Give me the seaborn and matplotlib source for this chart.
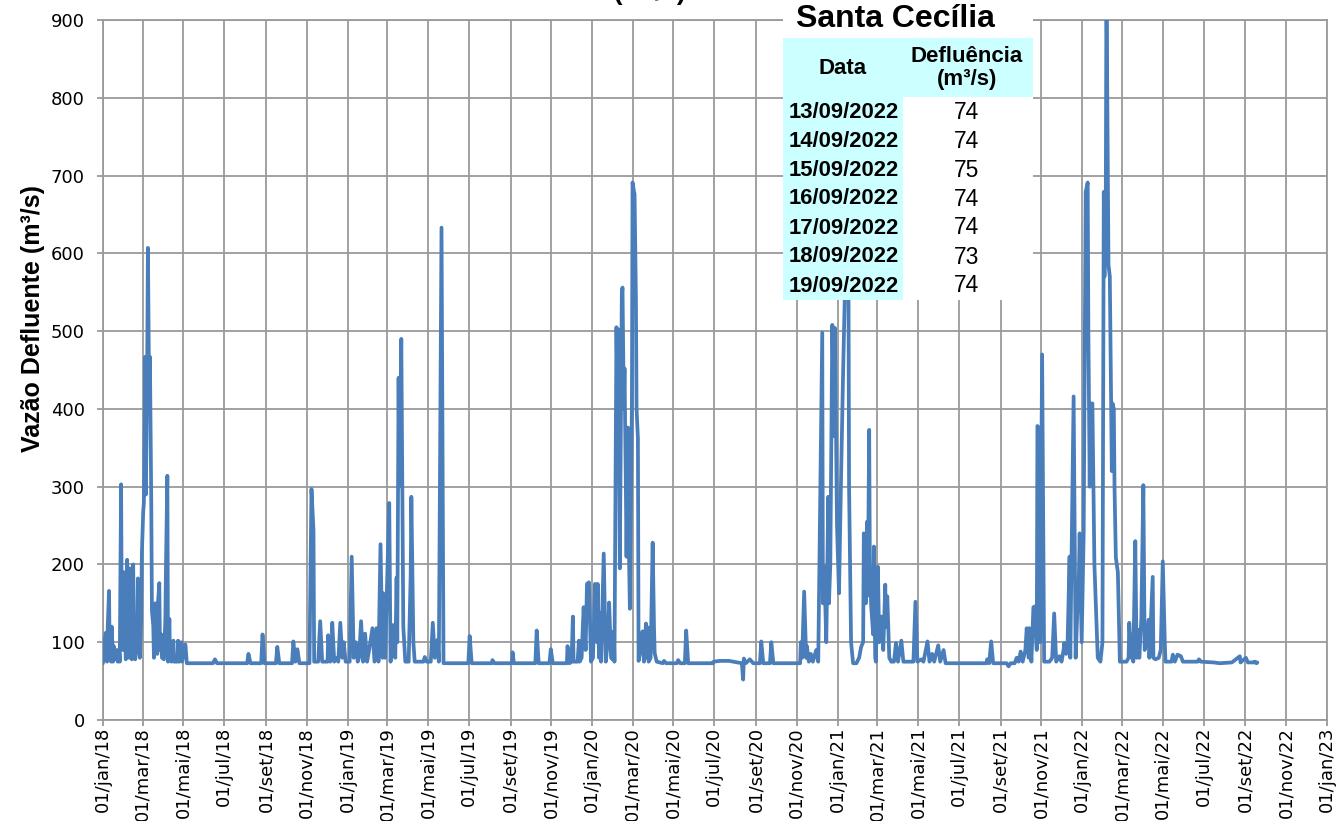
import pandas as pd
import matplotlib
matplotlib.use('Agg')
import matplotlib.pyplot as plt
from matplotlib.patches import Rectangle
import seaborn as sns

# dias contados a partir de 01/01/2018 e vazão defluente (m³/s)
dia = [0, 1, 3, 4, 6, 7, 9, 10, 12, 13, 15, 16, 18, 21, 22, 24, 25, 27, 28, 30,
       31, 33, 34, 36, 37, 39, 40, 42, 43, 45, 46, 48, 51, 52, 54, 55, 57, 58, 60, 61,
       63, 64, 66, 67, 69, 70, 72, 73, 75, 76, 78, 79, 81, 82, 84, 85, 87, 88, 91, 93,
       94, 96, 97, 99, 100, 102, 103, 105, 106, 111, 112, 114, 117, 118, 123, 125,
       164, 167, 170, 215, 217, 220, 236, 238, 241, 258, 260, 263, 282, 284, 287, 290, 293,
       308, 311, 314, 315, 321, 324, 327, 335, 336, 339, 341, 342, 345, 348, 351, 354, 357,
       359, 362, 368, 371, 374, 377, 380, 382, 385, 388, 391, 394, 397, 402, 405, 408, 411,
       414, 417, 418, 421, 423, 427, 429, 433, 436, 438, 439, 441, 442, 445, 448, 451, 456,
       459, 460, 463, 465, 478, 480, 483, 489, 492, 495, 499, 501, 505, 508,
       545, 547, 550, 580, 581, 584, 610, 611, 613, 645, 647, 650, 666, 668, 671,
       692, 693, 696, 699, 701, 702, 708, 710, 711, 714, 717, 720, 722, 725, 728, 731, 734,
       737, 738, 740, 741, 743, 747, 750, 753, 755, 758, 760, 762, 763, 766, 768, 769, 771,
       774, 775, 777, 778, 780, 781, 783, 784, 786, 789, 790, 792, 793, 795, 796, 798, 799,
       802, 805, 807, 810, 811, 813, 814, 817, 820, 822, 823, 826, 835, 837, 840, 856, 858,
       861, 868, 870, 873, 910, 911, 920, 934, 953, 955, 956, 959, 965, 970, 980, 982, 985,
       995, 997, 1000, 1040, 1041, 1043, 1046, 1049, 1050, 1053, 1056, 1059, 1064, 1067,
       1073, 1074, 1076, 1079, 1082, 1083, 1085, 1088, 1091, 1092, 1095, 1098, 1101, 1104,
       1107, 1109, 1110, 1112, 1113, 1116, 1119, 1124, 1128, 1131, 1134, 1135, 1138, 1140,
       1141, 1143, 1144, 1146, 1149, 1150, 1152, 1153, 1156, 1158, 1161, 1164, 1167, 1168,
       1170, 1173, 1176, 1180, 1183, 1186, 1191, 1194, 1209, 1212, 1215, 1221, 1224, 1230,
       1233, 1237, 1240, 1246, 1249, 1254, 1257, 1318, 1319, 1322, 1325, 1328, 1348, 1351,
       1354, 1360, 1363, 1366, 1369, 1372, 1376, 1378, 1381, 1382, 1385, 1388, 1390, 1393,
       1394, 1395, 1398, 1401, 1404, 1412, 1416, 1419, 1422, 1427, 1430, 1433, 1434, 1437,
       1439, 1442, 1443, 1448, 1451, 1454, 1455, 1457, 1460, 1463, 1466, 1469, 1470, 1472,
       1473, 1476, 1479, 1484, 1488, 1491, 1493, 1494, 1496, 1497, 1500, 1502, 1505, 1506,
       1508, 1509, 1511, 1514, 1517, 1527, 1530, 1531, 1534, 1536, 1537, 1540, 1542, 1545,
       1546, 1549, 1552, 1554, 1557, 1560, 1561, 1566, 1567, 1570, 1575, 1578, 1581, 1584,
       1585, 1594, 1596, 1599, 1603, 1608, 1611, 1633, 1635, 1638, 1657, 1666, 1684, 1696,
       1697, 1705, 1708, 1716, 1717, 1718, 1719, 1720, 1721, 1722]
vazao = [73, 105, 78, 112, 75, 118, 166, 80, 75, 120, 75, 95, 78, 90, 75, 88, 75, 303, 120, 90,
         190, 110, 78, 206, 120, 80, 195, 100, 78, 200, 120, 78, 95, 182, 160, 80, 130, 215, 268, 280,
         467, 290, 465, 607, 400, 467, 280, 140, 121, 80, 150, 100, 85, 150, 176, 90, 110, 80, 78, 130,
         200, 314, 75, 130, 80, 75, 85, 102, 75, 75, 102, 75, 100, 75, 97, 73,
         73, 78, 73, 73, 85, 73, 73, 110, 73, 73, 94, 73, 73, 101, 75, 91, 73,
         73, 297, 244, 75, 75, 127, 75, 75, 109, 75, 80, 125, 75, 80, 75, 125, 80,
         100, 75, 75, 210, 80, 100, 75, 80, 127, 75, 111, 75, 90, 118, 75, 118, 75,
         226, 80, 163, 80, 150, 279, 75, 122, 80, 183, 100, 440, 300, 490, 120, 75, 75,
         186, 287, 100, 75, 75, 81, 75, 75, 125, 80, 103, 75, 633, 73,
         73, 108, 73, 73, 77, 73, 73, 87, 73, 73, 115, 73, 73, 91, 73,
         73, 95, 73, 75, 133, 75, 75, 102, 75, 80, 145, 90, 175, 177, 75, 80, 175,
         100, 175, 80, 138, 75, 214, 75, 100, 151, 80, 78, 114, 75, 505, 380, 502, 195,
         548, 556, 400, 452, 300, 210, 376, 250, 143, 400, 691, 680, 676, 543, 400, 362, 76,
         90, 114, 75, 124, 80, 119, 75, 80, 228, 120, 86, 75, 73, 76, 73, 73, 77,
         73, 73, 115, 73, 73, 75, 76, 76, 73, 52, 79, 73, 78, 73, 73, 101, 73,
         73, 100, 73, 73, 100, 80, 165, 80, 95, 75, 85, 75, 90, 75,
         498, 150, 197, 100, 287, 150, 199, 508, 365, 504, 250, 163, 309, 442,
         560, 620, 580, 600, 300, 100, 73, 73, 80, 94, 100, 240, 150, 255,
         160, 373, 200, 146, 110, 223, 80, 75, 197, 100, 133, 90, 174, 120,
         159, 80, 75, 75, 99, 75, 102, 75, 75, 152, 75, 78, 75, 101,
         75, 85, 75, 96, 75, 90, 73, 73, 78, 73, 101, 73, 73, 69,
         73, 73, 80, 75, 88, 75, 90, 118, 80, 118, 75, 145, 146, 90,
         378, 377, 100, 470, 75, 75, 80, 137, 75, 82, 75, 90, 99, 85,
         100, 210, 80, 416, 80, 150, 145, 240, 100, 240, 679, 691, 500, 300,
         407, 407, 200, 80, 75, 100, 679, 570, 680, 950, 585, 570, 320, 407,
         400, 300, 209, 190, 75, 75, 80, 125, 80, 110, 75, 230, 80, 116,
         80, 130, 302, 90, 100, 129, 80, 184, 80, 78, 80, 90, 204, 100,
         75, 75, 84, 75, 84, 82, 75, 75, 78, 75, 74, 73, 74, 82,
         74, 80, 74, 74, 74, 75, 74, 74, 73, 74]

# tabela da última semana
tab_datas = ['13/09/2022', '14/09/2022', '15/09/2022', '16/09/2022',
             '17/09/2022', '18/09/2022', '19/09/2022']
tab_vazao = [74, 74, 75, 74, 74, 73, 74]

meses = ['jan', 'mar', 'mai', 'jul', 'set', 'nov']
anos = ['18', '19', '20', '21', '22']
rotulos_x = [f'01/{m}/{a}' for a in anos for m in meses] + ['01/jan/23']

df = pd.DataFrame({'Data': pd.Timestamp('2018-01-01') + pd.to_timedelta(dia, unit='D'),
                   'Vazao': vazao})

sns.set_theme(style='white')
plt.rcParams['font.family'] = ['DejaVu Sans']
plt.rcParams['text.color'] = 'black'
plt.rcParams['axes.labelcolor'] = 'black'

W, H = 1336, 821
fig = plt.figure(figsize=(W / 100, H / 100), dpi=100)
ax = fig.add_axes([103 / W, 1 - 720 / H, 1224 / W, 700 / H])

sns.lineplot(x='Data', y='Vazao', data=df, color='#4A7EBB', linewidth=2.7,
             ax=ax, estimator=None, zorder=3)

grid_c = '#9A9A9A'
ax.set_ylim(0, 900)
ax.set_yticks(range(0, 901, 100))
ticks_x = pd.date_range('2018-01-01', '2023-01-01', freq='2MS')
ax.set_xlim(ticks_x[0], ticks_x[-1])
ax.set_xticks(ticks_x)
ax.set_xticklabels(rotulos_x, rotation=90, ha='center', va='top')
ax.grid(True, color=grid_c, linewidth=1.3, zorder=0)
for s in ax.spines.values():
    s.set_color(grid_c)
    s.set_linewidth(1.3)
ax.tick_params(axis='both', labelsize=13, colors='black', width=1.3,
               color=grid_c, direction='out', left=True, bottom=True)
ax.tick_params(axis='y', length=4, pad=9)
ax.tick_params(axis='x', length=4, pad=1)
ax.set_xlabel('')
ax.set_ylabel('Vazão Defluente (m³/s)', fontsize=18, fontweight='bold',
              family='Liberation Sans')
ax.yaxis.set_label_coords(-0.047, 0.574)

# título (cortado no topo da figura, como no original)
fig.text(686 / W, 1.0, 'Vazão Defluente (m³/s)', ha='right', va='baseline',
         fontsize=19, fontweight='bold', family='Liberation Sans')

# quadro com a tabela
def px_rect(x0, y0, x1, y1, cor):
    fig.patches.append(Rectangle((x0 / W, 1 - y1 / H), (x1 - x0) / W, (y1 - y0) / H,
                                 transform=fig.transFigure, facecolor=cor,
                                 edgecolor='none', zorder=5))

px_rect(783, 0, 1033, 300, 'white')
px_rect(783, 38, 1033, 97, '#CCFFFF')
px_rect(783, 97, 903, 300, '#CCFFFF')

fig.text(895 / W, 1 - 19 / H, 'Santa Cecília', ha='center', va='center',
         fontsize=23, fontweight='bold', family='Liberation Sans', zorder=6)
fig.text(843 / W, 1 - 68 / H, 'Data', ha='center', va='center',
         fontsize=16, fontweight='bold', family='Liberation Sans', zorder=6)
fig.text(967 / W, 1 - 68 / H, 'Defluência\n(m³/s)', ha='center', va='center',
         fontsize=16, fontweight='bold', family='Liberation Sans', zorder=6,
         linespacing=1.15)
for i, (d, v) in enumerate(zip(tab_datas, tab_vazao)):
    yy = 1 - (112 + 29 * i) / H
    fig.text(844 / W, yy, d, ha='center', va='center', fontsize=15.8,
             fontweight='bold', family='Liberation Sans', zorder=6)
    fig.text(967 / W, yy, str(v), ha='center', va='center', fontsize=16.5,
             family='Liberation Sans', zorder=6)

fig.savefig('out.png', dpi=100)
